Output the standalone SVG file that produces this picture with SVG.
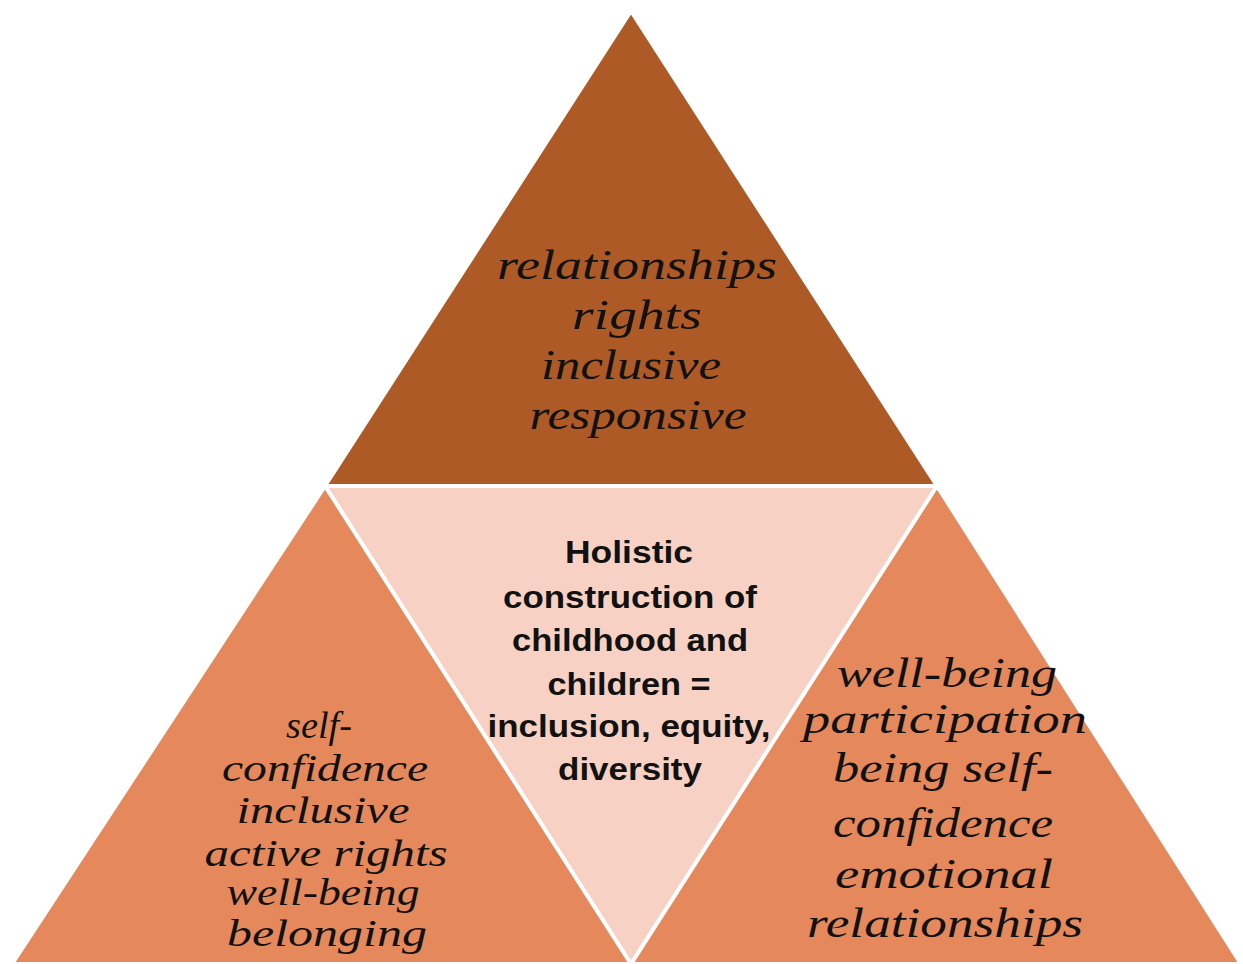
<svg xmlns="http://www.w3.org/2000/svg" width="1243" height="964" viewBox="0 0 1243 964">
<style>
.tri{stroke:#ffffff;stroke-width:4;stroke-linejoin:round}
.top{fill:#AD5A26}
.side{fill:#E5895C}
.mid{fill:#F7D1C3}
.script{font-family:"Liberation Serif","DejaVu Serif",serif;font-style:italic;font-size:42px;fill:#111;text-anchor:middle}
.small{font-size:37px}
.bold{font-family:"Liberation Sans",Arial,sans-serif;font-weight:bold;font-size:31px;fill:#111;text-anchor:middle}
</style>
<rect width="1243" height="964" fill="#ffffff"/>
<g id="top-triangle">
<polygon class="tri top" points="631,11 937,486 325,486"/>
<text class="script" x="637" y="279" textLength="280" lengthAdjust="spacingAndGlyphs">relationships</text>
<text class="script" x="637" y="329" textLength="130" lengthAdjust="spacingAndGlyphs">rights</text>
<text class="script" x="631" y="379" textLength="180" lengthAdjust="spacingAndGlyphs">inclusive</text>
<text class="script" x="638" y="429" textLength="217" lengthAdjust="spacingAndGlyphs">responsive</text>
</g>
<g id="center-triangle">
<polygon class="tri mid" points="325,486 937,486 631,964"/>
<text class="bold" x="629" y="563" textLength="128" lengthAdjust="spacingAndGlyphs">Holistic</text>
<text class="bold" x="630" y="608" textLength="254" lengthAdjust="spacingAndGlyphs">construction of</text>
<text class="bold" x="630" y="651" textLength="236" lengthAdjust="spacingAndGlyphs">childhood and</text>
<text class="bold" x="629" y="695" textLength="163" lengthAdjust="spacingAndGlyphs">children =</text>
<text class="bold" x="629" y="737" textLength="283" lengthAdjust="spacingAndGlyphs">inclusion, equity,</text>
<text class="bold" x="630" y="780" textLength="144" lengthAdjust="spacingAndGlyphs">diversity</text>
</g>
<g id="left-triangle">
<polygon class="tri side" points="325,486 631,964 12,964"/>
<text class="script small" x="319" y="738" textLength="66" lengthAdjust="spacingAndGlyphs">self-</text>
<text class="script small" x="325" y="781" textLength="206" lengthAdjust="spacingAndGlyphs">confidence</text>
<text class="script small" x="323" y="823" textLength="173" lengthAdjust="spacingAndGlyphs">inclusive</text>
<text class="script small" x="326" y="866" textLength="243" lengthAdjust="spacingAndGlyphs">active rights</text>
<text class="script small" x="323" y="905" textLength="193" lengthAdjust="spacingAndGlyphs">well-being</text>
<text class="script small" x="327" y="946" textLength="200" lengthAdjust="spacingAndGlyphs">belonging</text>
</g>
<g id="right-triangle">
<polygon class="tri side" points="937,486 1241,964 631,964"/>
<text class="script" x="947" y="687" textLength="220" lengthAdjust="spacingAndGlyphs">well-being</text>
<text class="script" x="945" y="733" textLength="284" lengthAdjust="spacingAndGlyphs">participation</text>
<text class="script" x="943" y="782" textLength="220" lengthAdjust="spacingAndGlyphs">being self-</text>
<text class="script" x="943" y="837" textLength="220" lengthAdjust="spacingAndGlyphs">confidence</text>
<text class="script" x="944" y="888" textLength="218" lengthAdjust="spacingAndGlyphs">emotional</text>
<text class="script" x="945" y="937" textLength="276" lengthAdjust="spacingAndGlyphs">relationships</text>
</g>
</svg>
